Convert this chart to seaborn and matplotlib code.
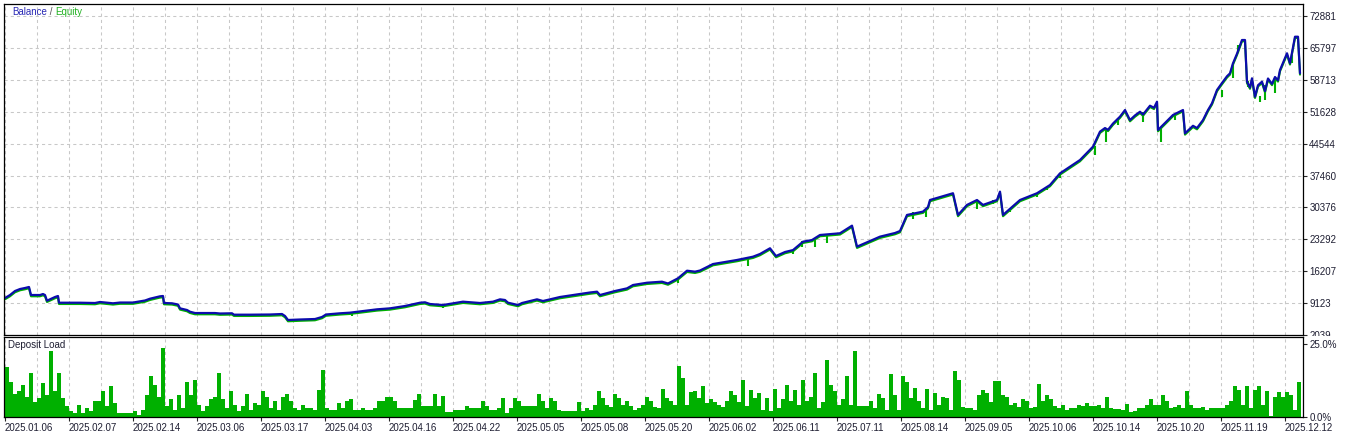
import numpy as np
import matplotlib
matplotlib.use("Agg")
import matplotlib.pyplot as plt
import seaborn as sns
from matplotlib.transforms import offset_copy, Bbox, TransformedBbox

sns.set_style("white")
plt.rcParams['font.family'] = ['Liberation Sans', 'DejaVu Sans']

# balance curve: trade index -> balance
bal_x = [0, 5, 10, 15, 20, 24, 26, 35, 38, 40, 42, 50, 53, 54, 75, 90, 95, 108, 115, 128,
         140, 145, 155, 158, 159, 167, 173, 175, 182, 185, 190, 210, 215, 227, 229, 245, 265, 277, 280, 283,
         295, 310, 317, 321, 335, 345, 372, 385, 400, 415, 420, 425, 438, 458, 475, 488, 495, 500, 503, 513,
         517, 532, 538, 555, 568, 585, 592, 595, 610, 622, 628, 642, 657, 663, 673, 682, 690, 695, 708, 720,
         732, 748, 755, 765, 771, 780, 788, 798, 807, 815, 835, 847, 852, 875, 890, 895, 902, 918, 923, 925,
         948, 953, 962, 972, 978, 992, 995, 998, 1015, 1032, 1045, 1055, 1075, 1088, 1095, 1100, 1103, 1108, 1115, 1120,
         1125, 1130, 1135, 1138, 1145, 1149, 1152, 1153, 1168, 1178, 1180, 1188, 1192, 1198, 1203, 1207, 1212, 1217, 1222, 1225,
         1228, 1232, 1237, 1240, 1242, 1245, 1247, 1250, 1253, 1257, 1260, 1263, 1267, 1270, 1273, 1275, 1279, 1282, 1285, 1288,
         1290, 1293, 1295]
balance = [10260, 10920, 11810, 12250, 12480, 12700, 10920, 10920, 11140, 10920, 9655, 10480, 10700, 9210, 9210, 9145, 9370, 9080, 9250, 9250,
           9700, 10100, 10630, 10700, 9145, 9080, 8810, 7960, 7590, 7210, 6920, 6920, 6810, 6860, 6550, 6550, 6590, 6700, 6260, 5370,
           5480, 5590, 6040, 6590, 6860, 7000, 7740, 7960, 8480, 9210, 9300, 8920, 8700, 9440, 9145, 9440, 9960, 9810, 9210, 8700,
           9145, 9960, 9590, 10480, 10920, 11480, 11660, 10920, 11810, 12400, 13140, 13650, 13880, 13480, 14630, 16320, 16100, 16360, 17800, 18250,
           18700, 19430, 20030, 21300, 19580, 20470, 20900, 22760, 23130, 24250, 24630, 26320, 21660, 23880, 24690, 25130, 28700, 29440, 30460, 32020,
           33520, 28700, 30930, 32020, 30930, 32020, 33880, 28700, 32020, 33520, 35350, 37940, 40900, 43870, 47200, 48000, 47600, 49000, 50530, 52000,
           49770, 50800, 51620, 51000, 52960, 52500, 53850, 47570, 50900, 52000, 46820, 48500, 48000, 49770, 52000, 53500, 56450, 58000, 59500, 60150,
           62380, 64500, 67550, 67550, 58290, 57000, 59040, 54960, 57500, 58290, 56200, 59000, 57800, 59330, 58600, 60880, 63000, 64600, 62380, 66000,
           68280, 68280, 60150]

# equity drawdown spikes below the balance line
dip_x = [347, 438, 673, 743, 788, 797, 810, 822, 908, 921, 972, 988, 1005, 1032, 1042, 1055,
         1090, 1101, 1113, 1138, 1156, 1170, 1217, 1228, 1233, 1243, 1255, 1260, 1270, 1287]
dip_top = [6990, 8700, 14700, 19140, 20915, 22914, 23136, 24024, 29354, 30020, 32018, 32018, 30320, 33574, 34906, 38015,
           44010, 48006, 50227, 51560, 48006, 51100, 56446, 62442, 66440, 58445, 55110, 57557, 59110, 64220]
dip_low = [6258, 8035, 13520, 17360, 20030, 21650, 21516, 22536, 27730, 28180, 29950, 31100, 29420, 32750, 34240, 36840,
           42010, 44965, 48670, 49406, 44965, 49780, 54960, 59040, 64600, 57180, 53850, 54230, 55710, 62380]

# deposit load, percent, one value per 4 trades
dep_load = [17, 12, 8, 9, 11, 7, 15, 5, 6.5, 11.6, 7.6, 22.5, 9, 15, 6.5, 3.6, 2, 1.4, 4.2, 1.4,
            3, 2, 5.4, 5.4, 8.8, 3.6, 10.5, 4.8, 1.5, 1.2, 1.5, 1.5, 2, 0.8, 2.5, 7.6, 14, 11, 7, 23.6,
            3.6, 6, 2.5, 7.6, 3, 12, 7.6, 12.8, 4.2, 2, 3.6, 6, 7, 15, 6, 3, 8.8, 4.2, 2, 3.6,
            8, 2.5, 4.8, 4.2, 8.8, 7, 3, 5.4, 2.5, 7, 8, 5.4, 3, 2.5, 4.2, 3, 3, 2.5, 9.4, 16,
            3, 2.5, 2.5, 4.8, 3, 5.4, 6, 2.5, 2.5, 3, 2.5, 2.5, 3, 5.4, 5.4, 7, 7, 5.4, 3, 3,
            3, 3, 5.7, 8, 3.6, 3.6, 3.6, 8, 3.6, 7.3, 1.6, 1.6, 2.5, 2.5, 2.5, 3.6, 3, 3, 3, 5.4,
            3.6, 2.5, 2.5, 3, 6.5, 1.4, 3, 6.5, 5.4, 3.6, 3.6, 3.6, 3.6, 8, 5.4, 3, 6.5, 5.4, 2.5, 2,
            2, 2, 2, 5, 2, 3, 2.5, 4.2, 9, 6.5, 4.2, 3.5, 8, 6.5, 4.2, 5.4, 3.6, 2.5, 3, 4.2,
            7, 5.4, 3.5, 3, 9.6, 6.5, 5.4, 4, 17.3, 13.3, 4.2, 8.4, 8.8, 6.5, 10.5, 4.8, 6, 5, 4.2, 3.5,
            5.4, 9, 7.6, 5, 12.8, 3.6, 9.4, 6.5, 8.1, 2.5, 6.5, 2, 9.6, 3, 6, 11, 5.4, 9.4, 4, 12.8,
            5.4, 7, 15, 3, 5, 19.6, 11, 8.8, 4.2, 6, 14, 4.2, 22.5, 3.6, 3.9, 3.9, 5.6, 3, 7.9, 6.5,
            2.5, 14.8, 7.6, 2.5, 14, 12, 6.5, 10, 5.4, 3, 9.6, 2.5, 8.2, 4.2, 7, 6.5, 2.5, 15.8, 12.8, 3.3,
            3, 3, 2.5, 7.6, 9.4, 8.2, 5, 12.2, 12.2, 7.6, 7, 4.2, 4.8, 3.5, 6, 5.4, 3, 3.5, 11.3, 5.4,
            7.6, 6, 3.6, 3, 4.2, 2.5, 3, 3, 4.2, 3.6, 4.8, 3.6, 3.6, 4.2, 3, 7, 3, 2.7, 2.7, 2.5,
            4.6, 1.6, 2, 3, 3, 4.2, 6, 4.2, 4, 7.6, 5.4, 3, 3.5, 4.2, 3, 8.9, 4.2, 3, 3, 3.3,
            2.5, 3.2, 3, 3, 3, 4.2, 5.4, 10.7, 9.4, 4.2, 10.5, 3, 9.4, 10.7, 4.2, 9, 0.5, 7, 8.4, 7,
            8.5, 7.6, 2.5, 11.9]

date_labels = ['2025.01.06', '2025.02.07', '2025.02.14', '2025.03.06', '2025.03.17', '2025.04.03',
               '2025.04.16', '2025.04.22', '2025.05.05', '2025.05.08', '2025.05.20', '2025.06.02',
               '2025.06.11', '2025.07.11', '2025.08.14', '2025.09.05', '2025.10.06', '2025.10.14',
               '2025.10.20', '2025.11.19', '2025.12.12']
y_ticks = [2039, 9123, 16207, 23292, 30376, 37460, 44544, 51628, 58713, 65797, 72881]

blue = '#0c0cac'
green = '#00b000'
grid_c = '#c8c8c8'
txt_c = '#1e1e32'
fs = 7

W, H = 1348, 434
fig = plt.figure(figsize=(W / 100, H / 100), dpi=100)
ax = fig.add_axes([4 / W, 1 - 335 / H, 1299 / W, 331 / H])
ax2 = fig.add_axes([4 / W, 1 - 417 / H, 1299 / W, 80 / H])

# equity fringe + spikes, then balance on top
sns.lineplot(x=bal_x, y=balance, ax=ax, color=green, linewidth=1.5, estimator=None)
ax.lines[-1].set_transform(offset_copy(ax.transData, fig=fig, x=0, y=-1.3, units='dots'))
ax.vlines(dip_x, dip_low, dip_top, color=green, linewidth=1.5)
sns.lineplot(x=bal_x, y=balance, ax=ax, color=blue, linewidth=1.6, estimator=None)

dep_x = np.arange(len(dep_load)) * 4 + 2
sns.histplot(x=dep_x, weights=dep_load, binwidth=4, binrange=(0, len(dep_load) * 4),
             ax=ax2, color=green, alpha=1, linewidth=0, element='bars')

major = np.arange(0, 1281, 64)
minor = np.arange(32, 1281, 64)
for a in (ax, ax2):
    a.set_xlim(-1, 1298)
    a.set_xticks(major)
    a.set_xticks(minor, minor=True)
    a.grid(True, axis='x', which='both', color=grid_c, linestyle=(0, (3, 3)), linewidth=0.75)
    a.set_xlabel('')
    a.set_ylabel('')
    for s in a.spines.values():
        s.set_color('#000000')
        s.set_linewidth(0.9)
    a.yaxis.tick_right()
    a.set_axisbelow(True)

ax.set_ylim(2039, 72881 + 12 * (72881 - 2039) / 319)
ax.set_yticks(y_ticks)
ax.set_yticklabels([str(v) for v in y_ticks])
ax.grid(True, axis='y', color=grid_c, linestyle=(0, (3, 3)), linewidth=0.75)
ax.tick_params(axis='x', which='both', length=0, labelbottom=False)
ax.tick_params(axis='y', length=3, width=0.8, pad=1.5, labelsize=fs, labelcolor=txt_c, right=True)

ax2.set_ylim(0, 25 * 80 / 73)
ax2.set_yticks([0, 25])
ax2.set_yticklabels(['0.0%', '25.0%'])
ax2.grid(False, axis='y')
ax2.tick_params(axis='y', length=3, width=0.8, pad=1.5, labelsize=fs, labelcolor=txt_c, right=True)
ax2.set_xticklabels(date_labels, ha='left')
ax2.tick_params(axis='x', which='major', length=3, width=0.8, pad=1, labelsize=fs, labelcolor=txt_c, bottom=True)
ax2.tick_params(axis='x', which='minor', length=0)

# clip the bottom main label under the deposit panel
clip = TransformedBbox(Bbox([[0, 1 - 336 / H], [1, 1]]), fig.transFigure)
for lab in ax.get_yticklabels():
    lab.set_clip_box(clip)
    lab.set_clip_on(True)

t1 = ax.text(8 / 1299, 1 - 8 / 331, 'Balance', transform=ax.transAxes, color='#2828b4',
             fontsize=fs, va='center', ha='left')
t2 = ax.annotate(' / ', xy=(1, 0), xycoords=t1, color='#505050', fontsize=fs, va='bottom', ha='left')
ax.annotate('Equity', xy=(1, 0), xycoords=t2, color='#20b020', fontsize=fs, va='bottom', ha='left')
ax2.text(4 / 1299, 1 - 8 / 80, 'Deposit Load', transform=ax2.transAxes, color=txt_c,
         fontsize=fs, va='center', ha='left')

fig.savefig('out.png', dpi=100)
